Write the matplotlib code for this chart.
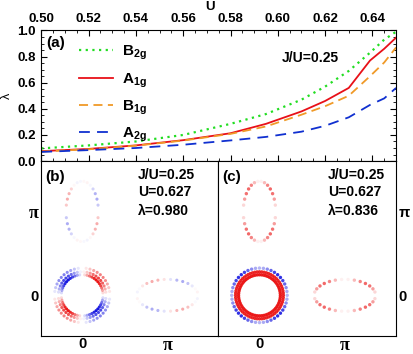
import numpy as np
import matplotlib
matplotlib.use("Agg")
import matplotlib.pyplot as plt
from matplotlib.lines import Line2D

plt.rcParams["font.family"] = ["Liberation Sans", "DejaVu Sans"]
plt.rcParams["font.weight"] = "bold"
plt.rcParams["mathtext.fontset"] = "custom"
plt.rcParams["mathtext.bf"] = "Liberation Sans:bold"
plt.rcParams["mathtext.rm"] = "Liberation Sans:bold"

# ---- panel (a): leading eigenvalues vs U ----
U = [0.50, 0.52, 0.54, 0.56, 0.58, 0.595, 0.61, 0.62, 0.63, 0.639, 0.645, 0.65]
lam_b2g = [0.097, 0.12, 0.15, 0.20, 0.285, 0.36, 0.47, 0.57, 0.69, 0.83, 0.93, 0.99]
lam_a1g = [0.076, 0.093, 0.12, 0.16, 0.213, 0.285, 0.38, 0.46, 0.56, 0.77, 0.86, 0.945]
lam_b1g = [0.073, 0.09, 0.118, 0.157, 0.208, 0.265, 0.355, 0.42, 0.50, 0.65, 0.755, 0.87]
lam_a2g = [0.070, 0.084, 0.10, 0.125, 0.158, 0.185, 0.225, 0.27, 0.335, 0.43, 0.48, 0.56]

# ---- panels (b),(c): Fermi-surface pockets (units of pi) ----
gamma_radii = [0.245, 0.28, 0.325]
gamma_npts = [52, 46, 44]
gamma_npts_c = [64, 64, 44]
ell_long, ell_short = 0.36, 0.19
ell_npts = 30
# (b) B2g gap amplitudes: gamma rings (inner..outer), X/Y pockets
amp_b_gamma = [1.0, 0.8, 0.55]
amp_b_xy = 0.6
# (c) gap amplitudes
amp_c_gamma = [0.95, 0.9, -0.9]
amp_c_xy = 0.65

RED = (0.92, 0.08, 0.08)
BLUE = (0.08, 0.08, 0.88)
DOT = 5


def rgba(vals):
    out = []
    for v in vals:
        c = RED if v >= 0 else BLUE
        out.append((*c, min(1.0, abs(v))))
    return out


def gamma_pts(r, n):
    t = np.linspace(0, 2 * np.pi, n, endpoint=False)
    return r * np.cos(t), r * np.sin(t), t


def ellipse_pts(ax_len, ay_len, n):
    t = np.linspace(0, 2 * np.pi, n, endpoint=False)
    return ax_len * np.cos(t), ay_len * np.sin(t), t


fig = plt.figure(figsize=(4.13, 3.54), dpi=100)
ax = fig.add_axes([0.1, 0.545, 0.859, 0.369])
axb = fig.add_axes([0.1, 0.052, 0.429, 0.493])
axc = fig.add_axes([0.529, 0.052, 0.430, 0.493])

lw = 1.3
ax.plot(U, lam_b2g, color="#22dd22", lw=1.6, ls=(0, (1, 2)))
ax.plot(U, lam_a1g, color="#e81018", lw=lw, ls="-")
ax.plot(U, lam_b1g, color="#f09a28", lw=lw, ls=(0, (5, 3)))
ax.plot(U, lam_a2g, color="#1030d0", lw=lw, ls=(0, (6, 4)))
ax.set_xlim(0.50, 0.65)
ax.set_ylim(0.0, 1.0)
ax.set_xticks(np.arange(0.50, 0.645, 0.02))
ax.set_xticks(np.arange(0.50, 0.651, 0.005), minor=True)
ax.set_yticks(np.arange(0.0, 1.01, 0.2))
ax.set_yticks(np.arange(0.0, 1.01, 0.05), minor=True)
ax.xaxis.set_major_formatter(matplotlib.ticker.FormatStrFormatter("%.2f"))
ax.yaxis.set_major_formatter(matplotlib.ticker.FormatStrFormatter("%.1f"))
ax.tick_params(which="both", direction="in", top=True, bottom=True, left=True,
               right=True, labeltop=True, labelbottom=False, labelsize=9.5)
ax.tick_params(which="major", length=4, pad=4)
ax.tick_params(which="minor", length=2)
for lab in ax.get_xticklabels() + ax.get_yticklabels():
    lab.set_fontweight("bold")
ax.xaxis.set_label_position("top")
ax.set_xlabel("U", fontsize=9.5, fontweight="bold", labelpad=1)
ax.xaxis.set_label_coords(0.476, 1.16)
ax.set_ylabel("λ", fontsize=9, labelpad=3, fontweight="normal")
ax.text(0.013, 0.905, "(a)", transform=ax.transAxes, fontsize=11, va="center")
ax.text(0.679, 0.789, "J/U=0.25", transform=ax.transAxes, fontsize=10, va="center")

handles = [
    Line2D([], [], color="#22dd22", lw=1.6, ls=(0, (1, 2))),
    Line2D([], [], color="#e81018", lw=lw),
    Line2D([], [], color="#f09a28", lw=lw, ls=(0, (5, 3))),
    Line2D([], [], color="#1030d0", lw=lw, ls=(0, (6, 4))),
]
labels = [r"$\mathbf{B}_{\mathbf{2g}}$", r"$\mathbf{A}_{\mathbf{1g}}$",
          r"$\mathbf{B}_{\mathbf{1g}}$", r"$\mathbf{A}_{\mathbf{2g}}$"]
ax.legend(handles, labels, loc="upper left", bbox_to_anchor=(0.106, 0.90),
          frameon=False, fontsize=11, handlelength=2.2, handletextpad=0.6,
          labelspacing=0.58, borderpad=0, borderaxespad=0)

# ---- panel (b): B2g gap on the Fermi surface ----
for r, n, a in zip(gamma_radii, gamma_npts, amp_b_gamma):
    x, y, t = gamma_pts(r, n)
    v = a * np.sign(np.sin(2 * t)) * np.abs(np.sin(2 * t)) ** 1.3
    axb.scatter(x, y, s=DOT, c=rgba(v), linewidths=0)
# X pocket at (pi,0)
x, y, t = ellipse_pts(ell_long, ell_short, ell_npts)
v = -amp_b_xy * np.sin(2 * t) * (0.8 - np.cos(t) ** 2) / 0.8
axb.scatter(1 + x, y, s=DOT, c=rgba(v), linewidths=0)
# Y pocket at (0,pi)
x, y, t = ellipse_pts(ell_short, ell_long, ell_npts)
v = -amp_b_xy * np.sin(2 * t) * (0.8 - np.sin(t) ** 2) / 0.8
axb.scatter(x, 1 + y, s=DOT, c=rgba(v), linewidths=0)

# ---- panel (c) ----
for r, n, a in zip(gamma_radii, gamma_npts_c, amp_c_gamma):
    x, y, t = gamma_pts(r, n)
    if a > 0:
        v = np.full(n, a)
    else:
        v = a * (0.35 + 0.65 * np.sin(2 * t) ** 2)
    axc.scatter(x, y, s=DOT + 1, c=rgba(v), linewidths=0)
x, y, t = ellipse_pts(ell_long, ell_short, ell_npts)
v = amp_c_xy * np.abs(np.sin(2 * t)) ** 1.5
axc.scatter(1 + x, y, s=DOT + 1, c=rgba(v), linewidths=0)
x, y, t = ellipse_pts(ell_short, ell_long, ell_npts)
v = amp_c_xy * np.abs(np.sin(2 * t)) ** 1.5
axc.scatter(x, 1 + y, s=DOT + 1, c=rgba(v), linewidths=0)

for a_ in (axb, axc):
    a_.set_xlim(-0.48, 1.60)
    a_.set_ylim(-0.48, 1.60)
    a_.set_xticks([0, 1])
    a_.set_yticks([0, 1])
    a_.set_xticklabels(["0", "π"])
    a_.set_yticklabels(["0", "π"])
    a_.tick_params(length=0, pad=2, labelsize=10.5)
    for lab in a_.get_xticklabels() + a_.get_yticklabels():
        lab.set_fontweight("bold")
        if lab.get_text() == "π":
            lab.set_fontfamily("Liberation Serif")
            lab.set_fontsize(13)
    a_.tick_params(axis="x", pad=1)
axc.yaxis.tick_right()

axb.text(0.02, 0.91, "(b)", transform=axb.transAxes, fontsize=11, va="center")
axb.text(0.546, 0.921, "J/U=0.25", transform=axb.transAxes, fontsize=10, va="center")
axb.text(0.546, 0.82, "U=0.627", transform=axb.transAxes, fontsize=10, va="center")
axb.text(0.546, 0.713, "λ=0.980", transform=axb.transAxes, fontsize=10, va="center")
axc.text(0.02, 0.91, "(c)", transform=axc.transAxes, fontsize=11, va="center")
axc.text(0.617, 0.921, "J/U=0.25", transform=axc.transAxes, fontsize=10, va="center")
axc.text(0.617, 0.82, "U=0.627", transform=axc.transAxes, fontsize=10, va="center")
axc.text(0.617, 0.713, "λ=0.836", transform=axc.transAxes, fontsize=10, va="center")

fig.savefig("out.png", dpi=100)
